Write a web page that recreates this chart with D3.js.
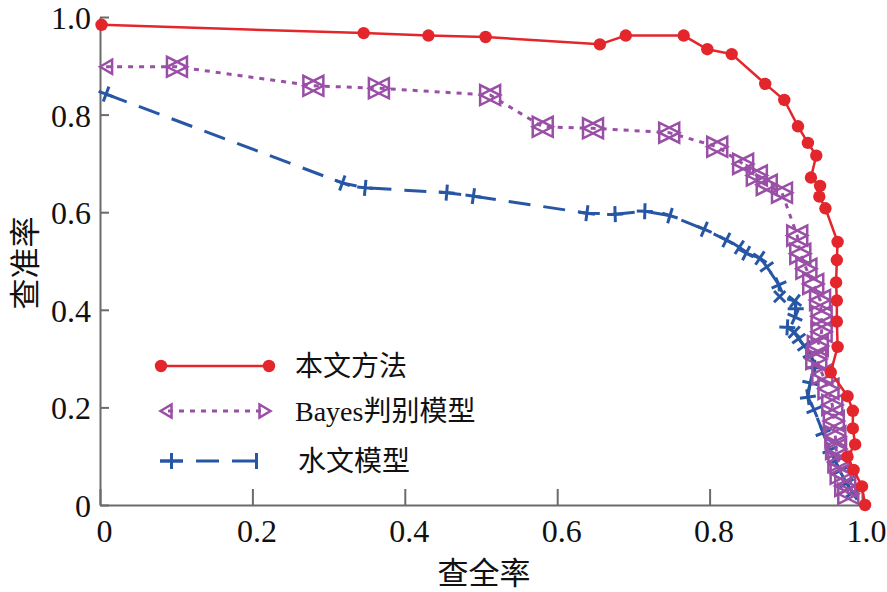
<!DOCTYPE html>
<html><head><meta charset="utf-8">
<script src="https://cdn.jsdelivr.net/npm/d3@7"></script>
<style>body{margin:0;background:#fff}svg{display:block}
.serif{font-family:"Liberation Serif","DejaVu Serif","Noto Sans CJK SC",serif}
.cjk{font-family:"Noto Sans CJK SC","Noto Sans CJK JP",sans-serif}</style>
</head><body>
<svg id="c" width="887" height="592"></svg>
<script>
// ---- data ----
const xTicks = [0, 0.2, 0.4, 0.6, 0.8, 1.0];
const xTickLabels = ["0", "0.2", "0.4", "0.6", "0.8", "1.0"];
const yTicks = [0, 0.2, 0.4, 0.6, 0.8, 1.0];
const yTickLabels = ["0", "0.2", "0.4", "0.6", "0.8", "1.0"];
const seriesNames = ["本文方法", "Bayes判别模型", "水文模型"];
const xTitle = "查全率";
const yTitle = "查准率";

const oursRecall = [0.002,0.346,0.431,0.506,0.656,0.690,0.766,0.797,0.829,0.873,0.898,0.916,0.929,0.940,0.933,0.945,0.944,0.952,0.968,0.967,0.966,0.967,0.967,0.968,0.959,0.981,0.988,0.988,0.991,0.981,0.989,1.000,1.004];
const oursPrecision = [0.984,0.967,0.962,0.959,0.944,0.962,0.962,0.934,0.924,0.863,0.830,0.776,0.742,0.716,0.671,0.654,0.632,0.608,0.539,0.502,0.456,0.419,0.376,0.324,0.272,0.223,0.193,0.157,0.124,0.099,0.072,0.038,0.000];

const bayesRecall = [0.008,0.101,0.280,0.366,0.512,0.581,0.647,0.747,0.810,0.844,0.862,0.875,0.895,0.915,0.919,0.927,0.936,0.945,0.947,0.947,0.942,0.940,0.948,0.956,0.961,0.963,0.965,0.966,0.969,0.972,0.978,0.982];
const bayesPrecision = [0.898,0.898,0.859,0.854,0.840,0.775,0.772,0.763,0.734,0.699,0.675,0.656,0.640,0.552,0.515,0.484,0.453,0.420,0.387,0.355,0.326,0.299,0.268,0.238,0.205,0.172,0.141,0.115,0.088,0.064,0.039,0.023];

const hydroRecall = [0.008,0.318,0.348,0.455,0.490,0.639,0.676,0.715,0.748,0.793,0.822,0.839,0.848,0.866,0.875,0.891,0.892,0.912,0.913,0.912,0.902,0.911,0.917,0.924,0.932,0.938,0.932,0.929,0.937,0.949,0.958,0.965,0.971,0.980,0.988];
const hydroPrecision = [0.842,0.660,0.650,0.640,0.633,0.598,0.596,0.602,0.593,0.565,0.543,0.528,0.516,0.506,0.488,0.451,0.427,0.418,0.402,0.385,0.364,0.354,0.341,0.326,0.309,0.281,0.250,0.221,0.195,0.148,0.113,0.090,0.070,0.045,0.025];

// ---- style ----
const RED = "#e3262b", PURPLE = "#9a4fa6", BLUE = "#2756a5", AXIS = "#6b6b6b";

const svg = d3.select("#c");
const x = d3.scaleLinear().domain([0, 1]).range([100, 862]);
const y = d3.scaleLinear().domain([0, 1]).range([505, 17]);

const zip = (a, b) => a.map((v, i) => [v, b[i]]);
const ours = zip(oursRecall, oursPrecision);
const bayes = zip(bayesRecall, bayesPrecision);
const hydro = zip(hydroRecall, hydroPrecision);
const line = d3.line().x(d => x(d[0])).y(d => y(d[1]));

// ---- axes ----
const gx = svg.append("g").attr("transform", `translate(0,${y(0)})`)
  .call(d3.axisBottom(x).tickValues(xTicks).tickFormat((d, i) => xTickLabels[i]).tickSizeInner(-16).tickSizeOuter(0).tickPadding(14));
const gy = svg.append("g").attr("transform", `translate(${x(0)},0)`)
  .call(d3.axisLeft(y).tickValues(yTicks).tickFormat((d, i) => yTickLabels[i]).tickSizeInner(-9).tickSizeOuter(0).tickPadding(9));
[gx, gy].forEach(g => {
  g.attr("font-family", null).attr("font-size", null);
  g.select(".domain").attr("stroke", AXIS).attr("stroke-width", 2);
  g.selectAll(".tick line").attr("stroke", AXIS).attr("stroke-width", 2);
  g.selectAll(".tick text").attr("class", "serif").attr("fill", "#111").attr("font-size", 32);
});
gx.selectAll(".tick text").attr("dx", "4px");
gy.selectAll(".tick text").attr("dy", "0.36em");

svg.append("text").attr("class", "cjk").attr("x", 484).attr("y", 584).attr("text-anchor", "middle")
  .attr("font-size", 31).attr("fill", "#111").text(xTitle);
svg.append("text").attr("class", "cjk").attr("transform", "translate(36,263) rotate(-90)").attr("text-anchor", "middle")
  .attr("font-size", 31).attr("fill", "#111").text(yTitle);

// ---- hydro series ----
svg.append("path").datum(hydro).attr("d", line).attr("fill", "none")
  .attr("stroke", BLUE).attr("stroke-width", 3).attr("stroke-dasharray", "22,13");
const hp = hydro.map(d => [x(d[0]), y(d[1])]);
svg.append("g").selectAll("path").data(hp).join("path")
  .attr("d", "M-8,0L8,0M0,-8L0,8")
  .attr("transform", (d, i) => {
    const a = hp[Math.max(0, i - 1)], b = hp[Math.min(hp.length - 1, i + 1)];
    const ang = Math.atan2(b[1] - a[1], b[0] - a[0]) * 180 / Math.PI;
    return `translate(${d[0]},${d[1]}) rotate(${ang})`;
  })
  .attr("stroke", BLUE).attr("stroke-width", 3).attr("fill", "none");

// ---- bayes series ----
svg.append("path").datum(bayes).attr("d", line).attr("fill", "none")
  .attr("stroke", PURPLE).attr("stroke-width", 3).attr("stroke-dasharray", "5,6");
const bg = svg.append("g");
bg.selectAll("path.l").data(bayes.slice(1)).join("path").attr("class", "l")
  .attr("d", "M-10,0L10,-10L10,10Z")
  .attr("transform", d => `translate(${x(d[0])},${y(d[1])})`)
  .attr("stroke", PURPLE).attr("stroke-width", 2.5).attr("fill", "none");
bg.selectAll("path.r").data(bayes.slice(1)).join("path").attr("class", "r")
  .attr("d", "M10,0L-10,-10L-10,10Z")
  .attr("transform", d => `translate(${x(d[0])},${y(d[1])})`)
  .attr("stroke", PURPLE).attr("stroke-width", 2.5).attr("fill", "none");
bg.selectAll("path.f").data(bayes.slice(0, 1)).join("path").attr("class", "f")
  .attr("d", "M-6,0L6,-7L6,7Z")
  .attr("transform", d => `translate(${x(d[0])},${y(d[1])})`)
  .attr("stroke", PURPLE).attr("stroke-width", 2.5).attr("fill", "none");

// ---- ours series ----
svg.append("path").datum(ours).attr("d", line).attr("fill", "none")
  .attr("stroke", RED).attr("stroke-width", 2.5);
svg.append("g").selectAll("circle").data(ours).join("circle")
  .attr("cx", d => x(d[0])).attr("cy", d => y(d[1])).attr("r", 6.2).attr("fill", RED);

// ---- legend ----
const lg = svg.append("g");
lg.append("line").attr("x1", 161).attr("x2", 269).attr("y1", 366).attr("y2", 366).attr("stroke", RED).attr("stroke-width", 2.5);
[161, 269].forEach(cx => lg.append("circle").attr("cx", cx).attr("cy", 366).attr("r", 6.2).attr("fill", RED));
lg.append("line").attr("x1", 168).attr("x2", 262).attr("y1", 411).attr("y2", 411).attr("stroke", PURPLE).attr("stroke-width", 3).attr("stroke-dasharray", "5,6");
lg.append("path").attr("d", "M160.5,411L171.5,404.5L171.5,417.5Z").attr("stroke", PURPLE).attr("stroke-width", 2.5).attr("fill", "none");
lg.append("path").attr("d", "M270.5,411L259.5,404.5L259.5,417.5Z").attr("stroke", PURPLE).attr("stroke-width", 2.5).attr("fill", "none");
lg.append("line").attr("x1", 160).attr("x2", 257).attr("y1", 461).attr("y2", 461).attr("stroke", BLUE).attr("stroke-width", 3).attr("stroke-dasharray", "23,13");
lg.append("path").attr("d", "M160,461L183,461M171.5,453L171.5,469").attr("stroke", BLUE).attr("stroke-width", 3);
lg.append("path").attr("d", "M256.5,453L256.5,469").attr("stroke", BLUE).attr("stroke-width", 3);

const legY = [366, 411, 461];
const legX = [295, 295, 298];
seriesNames.forEach((n, i) => {
  lg.append("text").attr("class", i === 1 ? "serif" : "cjk").attr("x", legX[i]).attr("y", legY[i]).attr("dy", "0.36em")
    .attr("font-size", 28).attr("fill", "#111").text(n);
});
</script>
</body></html>
